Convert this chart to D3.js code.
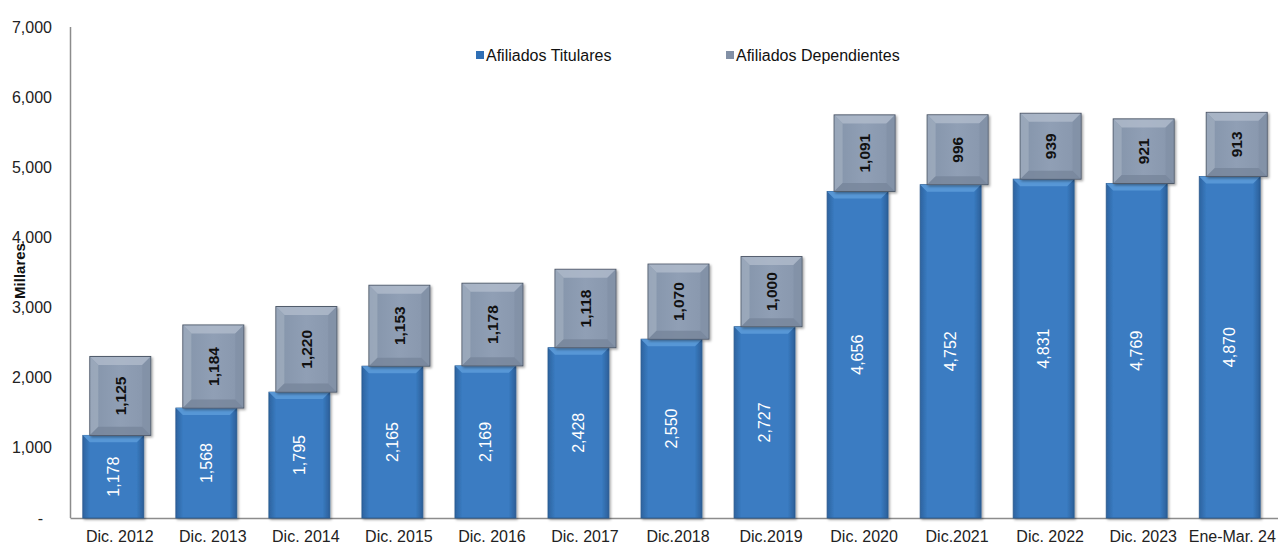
<!DOCTYPE html>
<html>
<head>
<meta charset="utf-8">
<script src="https://cdn.jsdelivr.net/npm/d3@7"></script>
<style>
  body { margin: 0; background: #fff; }
  text { font-family: "Liberation Sans", Arial, sans-serif; }
</style>
</head>
<body>
<svg width="1278" height="545"></svg>
<script>
// data (thousands)
var categories = ["Dic. 2012","Dic. 2013","Dic. 2014","Dic. 2015","Dic. 2016","Dic. 2017","Dic.2018","Dic.2019","Dic. 2020","Dic.2021","Dic. 2022","Dic. 2023","Ene-Mar. 24"]
var titulares = [1178,1568,1795,2165,2169,2428,2550,2727,4656,4752,4831,4769,4870]
var dependientes = [1125,1184,1220,1153,1178,1118,1070,1000,1091,996,939,921,913]
var yTicks = [0,1000,2000,3000,4000,5000,6000,7000]
var seriesNames = ["Afiliados Titulares","Afiliados Dependientes"]

var svg = d3.select("svg")
var fmt = d3.format(",")

var x = d3.scaleBand().domain(categories).range([70.5, 1279.5]).paddingInner(0.345).paddingOuter(0.17)
var y = d3.scaleLinear().domain([0, 7000]).range([518, 27])

var rows = categories.map(function(c, i) {
  return {cat: c, tit: titulares[i], dep: dependientes[i]}
})

// gradients + shadow for the bevel look
var defs = svg.append("defs")
function hgrad(id, stops) {
  var g = defs.append("linearGradient").attr("id", id).attr("x1", 0).attr("x2", 1).attr("y1", 0).attr("y2", 0)
  stops.forEach(function(s) { g.append("stop").attr("offset", s[0]).attr("stop-color", s[1]) })
}
hgrad("blueG", [[0,"#2d639f"],[0.12,"#3a7cc2"],[0.88,"#3a7cc2"],[1,"#2b5f99"]])
hgrad("grayG", [[0,"#8494aa"],[0.5,"#909fb5"],[1,"#8796ac"]])
var f = defs.append("filter").attr("id", "shadow").attr("x", -0.2).attr("y", -0.2).attr("width", 1.4).attr("height", 1.4)
f.append("feDropShadow").attr("dx", 1.5).attr("dy", 1.5).attr("stdDeviation", 1.2).attr("flood-color", "#000").attr("flood-opacity", 0.35)

// axes
svg.append("line").attr("x1", 70.5).attr("x2", 70.5).attr("y1", y(7000)).attr("y2", y(0))
  .attr("stroke", "#8c8c8c").attr("stroke-width", 1.5)
svg.append("line").attr("x1", 70.5).attr("x2", 1278).attr("y1", y(0) + 0.5).attr("y2", y(0) + 0.5)
  .attr("stroke", "#8c8c8c").attr("stroke-width", 1.5)

svg.append("g").selectAll("text").data(yTicks).join("text")
  .attr("x", function(d) { return d === 0 ? 43 : 52 }).attr("y", function(d) { return y(d) + 5.5 })
  .attr("text-anchor", "end").attr("font-size", 16).attr("fill", "#222")
  .text(function(d) { return d === 0 ? "-" : fmt(d) })

svg.append("g").selectAll("text").data(categories).join("text")
  .attr("x", function(d) { return x(d) + x.bandwidth() / 2 + 3 })
  .attr("y", 542).attr("text-anchor", "middle").attr("font-size", 16).attr("fill", "#222")
  .text(function(d) { return d })
  .each(function() {
    // keep the last label inside the page
    var bb = this.getBBox()
    if (bb.x + bb.width > 1276) d3.select(this).attr("x", +d3.select(this).attr("x") - (bb.x + bb.width - 1276))
  })

svg.append("text").attr("transform", "translate(25,271) rotate(-90)")
  .attr("text-anchor", "middle").attr("font-size", 15).attr("font-weight", "bold").attr("fill", "#111")
  .text("Millares")

var off = 3.5
var bw = x.bandwidth()

// blue segments
var gb = svg.append("g").selectAll("g").data(rows).join("g")
gb.append("rect")
  .attr("x", function(d) { return x(d.cat) - off }).attr("width", bw)
  .attr("y", function(d) { return y(d.tit) }).attr("height", function(d) { return y(0) - y(d.tit) })
  .attr("fill", "url(#blueG)").attr("stroke", "#2a5a8f").attr("stroke-width", 0.8)
  .attr("filter", "url(#shadow)")
gb.append("path")
  .attr("d", function(d) {
    var x0 = x(d.cat) - off, t = y(d.tit)
    return "M" + x0 + "," + t + "L" + (x0 + bw) + "," + t + "L" + (x0 + bw - 7) + "," + (t + 7) + "L" + (x0 + 7) + "," + (t + 7) + "Z"
  })
  .attr("fill", "#5b9ad8").attr("opacity", 0.9)

// gray segments with a bevelled frame
var gg = svg.append("g").selectAll("g").data(rows).join("g")
gg.append("rect")
  .attr("x", function(d) { return x(d.cat) + off }).attr("width", bw)
  .attr("y", function(d) { return y(d.tit + d.dep) }).attr("height", function(d) { return y(d.tit) - y(d.tit + d.dep) })
  .attr("fill", "url(#grayG)").attr("stroke", "#4f5a6a").attr("stroke-width", 1)
  .attr("filter", "url(#shadow)")
var bev = 8
var sides = [
  {fill: "#b3becd", pts: function(x0, x1, t, b) { return [[x0, t], [x1, t], [x1 - bev, t + bev], [x0 + bev, t + bev]] }},
  {fill: "#a0adbf", pts: function(x0, x1, t, b) { return [[x0, t], [x0 + bev, t + bev], [x0 + bev, b - bev], [x0, b]] }},
  {fill: "#8190a5", pts: function(x0, x1, t, b) { return [[x1, t], [x1 - bev, t + bev], [x1 - bev, b - bev], [x1, b]] }},
  {fill: "#76849a", pts: function(x0, x1, t, b) { return [[x0, b], [x0 + bev, b - bev], [x1 - bev, b - bev], [x1, b]] }}
]
sides.forEach(function(s) {
  gg.append("path")
    .attr("d", function(d) {
      var x0 = x(d.cat) + off + 0.5, x1 = x0 + bw - 1
      var t = y(d.tit + d.dep) + 0.5, b = y(d.tit) - 0.5
      return "M" + s.pts(x0, x1, t, b).map(function(p) { return p.join(",") }).join("L") + "Z"
    })
    .attr("fill", s.fill).attr("opacity", 0.75)
})

// value labels
gb.append("text")
  .attr("transform", function(d) {
    return "translate(" + (x(d.cat) - off + bw / 2 + 5.5) + "," + ((y(0) + y(d.tit)) / 2) + ") rotate(-90)"
  })
  .attr("text-anchor", "middle").attr("font-size", 16).attr("fill", "#fff")
  .text(function(d) { return fmt(d.tit) })
gg.append("text")
  .attr("transform", function(d) {
    return "translate(" + (x(d.cat) + off + bw / 2 + 5.5) + "," + ((y(d.tit) + y(d.tit + d.dep)) / 2) + ") rotate(-90)"
  })
  .attr("text-anchor", "middle").attr("font-size", 15.5).attr("font-weight", "bold").attr("fill", "#111")
  .text(function(d) { return fmt(d.dep) })

// legend
var legendX = [476, 726]
var legendFill = ["#2f6fb5", "#8290a6"]
var lg = svg.append("g").selectAll("g").data(seriesNames).join("g")
  .attr("transform", function(d, i) { return "translate(" + legendX[i] + ",55)" })
lg.append("rect").attr("x", 0).attr("y", -4).attr("width", 8).attr("height", 8)
  .attr("fill", function(d, i) { return legendFill[i] })
lg.append("text").attr("x", 10).attr("y", 5.5).attr("font-size", 16).attr("fill", "#111")
  .text(function(d) { return d })
</script>
</body>
</html>
